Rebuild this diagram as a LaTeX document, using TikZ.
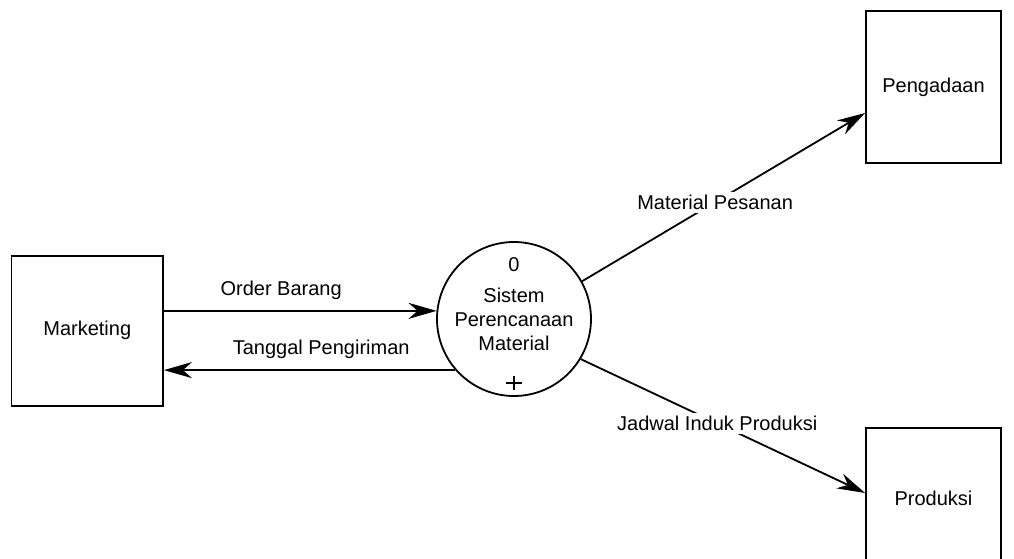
\documentclass[tikz,border=0pt]{standalone}
\usepackage{fontspec}
\setmainfont{Liberation Sans}
\usetikzlibrary{positioning,calc,arrows.meta}
\tikzset{
  entity/.style={draw, line width=0.9pt, minimum width=67.5pt, minimum height=76pt, inner sep=0pt},
  flow/.style={line width=0.9pt, -{Stealth[length=14pt,width=8pt,inset=4.5pt]}},
  lbl/.style={fill=white, inner sep=1.5pt},
}
\begin{document}
\begin{tikzpicture}[x=0.5pt, y=-0.5pt, font=\fontsize{10}{12}\selectfont]
    \useasboundingbox (0,0) rectangle (1014,558);
    % 
    \node[entity, minimum width=75.75pt, minimum height=75pt] (Mkt) at (87.25,330.75) {Marketing};
    % 
    \node[entity] (Png) at (933.5,87) {Pengadaan};
    % 
    \node[entity, minimum height=70pt] (Prd) at (933.5,498) {Produksi};
    %%%%%%%%%%%%%%%%%%%%%% 
    \node[circle, draw, line width=0.9pt, minimum size=77pt, inner sep=0pt] (Sys) at (514,319) {};
    % 
    \node[align=center] (SysT) at (Sys.center) {Sistem\\Perencanaan\\Material};
    % 
    \node[below=4.5pt of Sys.north] (Num) {0};
    % 
    \coordinate[above=7pt of Sys.south] (Plus);
    \draw[line width=0.6pt] ($(Plus)+(-8,0)$) -- ($(Plus)+(8,0)$) ($(Plus)+(0,-7)$) -- ($(Plus)+(0,7)$);
    %%%%%%%%%%%%%%%%%%%%%% 
    \draw[flow] (Sys.174 -| Mkt.east) -- node[above=2pt, pos=0.43] {Order Barang} (Sys.174);
    % 
    \draw[flow] (Sys.221) -- node[above=2pt, pos=0.46] {Tanggal Pengiriman} (Sys.221 -| Mkt.east);
    % 
    \draw[flow] (Sys.29) -- node[lbl, pos=0.47] {Material Pesanan} ($(Png.west)+(0,26)$);
    % 
    \draw[flow] (Sys.-31) -- node[lbl, pos=0.48] {Jadwal Induk Produksi} ($(Prd.west)+(0,-5)$);
\end{tikzpicture}
\end{document}
